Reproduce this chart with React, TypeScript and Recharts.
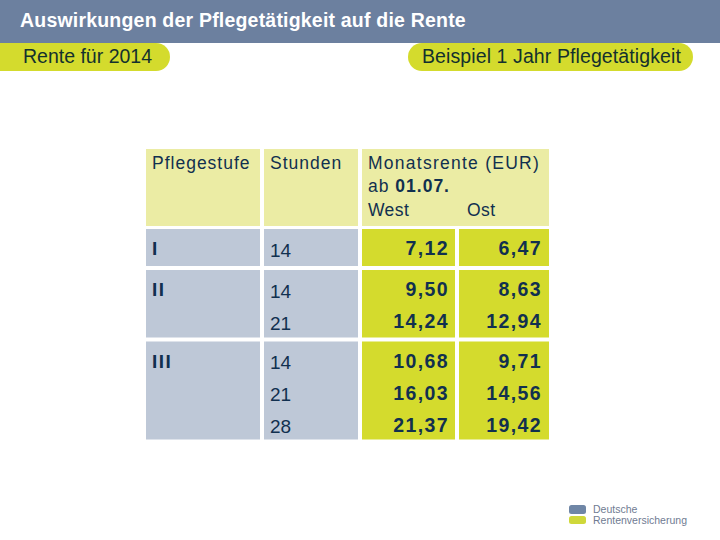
import React from 'react';
import { ComposedChart, XAxis, YAxis, ReferenceArea, Scatter } from 'recharts';

// table content
const levels = ['I', 'II', 'III'];
const hours = [[14], [14, 21], [14, 21, 28]];
const westEur = [[7.12], [9.5, 14.24], [10.68, 16.03, 21.37]];
const eastEur = [[6.47], [8.63, 12.94], [9.71, 14.56, 19.42]];
const headers = ['Pflegestufe', 'Stunden', 'Monatsrente (EUR)'];
const dateLabel = ['ab ', '01.07.'];
const regions = ['West', 'Ost'];

const title = 'Auswirkungen der Pflegetätigkeit auf die Rente';
const leftTag = 'Rente für 2014';
const rightTag = 'Beispiel 1 Jahr Pflegetätigkeit';

const FONT = '"Liberation Sans", Arial, sans-serif';
const INK = '#11304f';
const BAR = '#6c809f';
const LIME = '#d4db2d';
const PALE = '#ebeca4';
const GREY = '#bec8d7';

// layout of the grid (axis units == px)
const COL_W = [114, 94, 93, 90];
const COL_GAP = 4;
const LINE = 30.5;
const PAD = 6.5;
const ROW_GAP = 4;
const HEAD_H = 77;
const HEAD_GAP = 3;

const colStart = COL_W.map((_, i) => COL_W.slice(0, i).reduce((a, b) => a + b + COL_GAP, 0));
const colEnd = colStart.map((s, i) => s + COL_W[i]);
const rowH = hours.map((h) => h.length * LINE + PAD);
const rowTop = rowH.map((_, i) => rowH.slice(0, i).reduce((a, b) => a + b + ROW_GAP, 0));
const tableW = colEnd[colEnd.length - 1];
const tableH = rowTop[rowTop.length - 1] + rowH[rowH.length - 1];
const headTop = -(HEAD_H + HEAD_GAP);

const fmt = (v: number) => v.toFixed(2).replace('.', ',');

type Txt = {
  x: number;
  y: number;
  parts: { t: string; bold?: boolean }[];
  anchor: 'start' | 'end';
  size: number;
  ls: number;
};

const headTexts: Txt[] = [
  { x: colStart[0] + 6, y: headTop + 20, parts: [{ t: headers[0] }], anchor: 'start', size: 17.5, ls: 1 },
  { x: colStart[1] + 6, y: headTop + 20, parts: [{ t: headers[1] }], anchor: 'start', size: 17.5, ls: 1 },
  { x: colStart[2] + 6, y: headTop + 20, parts: [{ t: headers[2] }], anchor: 'start', size: 17.5, ls: 1.25 },
  {
    x: colStart[2] + 6,
    y: headTop + 43,
    parts: [{ t: dateLabel[0] }, { t: dateLabel[1], bold: true }],
    anchor: 'start',
    size: 17.5,
    ls: 1,
  },
  { x: colStart[2] + 6, y: headTop + 67, parts: [{ t: regions[0] }], anchor: 'start', size: 17.5, ls: 0.4 },
  { x: colStart[3] + 8, y: headTop + 67, parts: [{ t: regions[1] }], anchor: 'start', size: 17.5, ls: 0.4 },
];

const bodyTexts: Txt[] = [];
levels.forEach((lv, r) => {
  bodyTexts.push({ x: colStart[0] + 6, y: rowTop[r] + 26, parts: [{ t: lv, bold: true }], anchor: 'start', size: 19, ls: 1.5 });
  hours[r].forEach((h, i) => {
    const y = rowTop[r] + 27.5 + i * 32;
    bodyTexts.push({ x: colStart[1] + 6, y, parts: [{ t: String(h) }], anchor: 'start', size: 19, ls: 0 });
  });
  westEur[r].forEach((v, i) => {
    const y = rowTop[r] + 26 + i * 32;
    bodyTexts.push({ x: colEnd[2] - 6, y, parts: [{ t: fmt(v), bold: true }], anchor: 'end', size: 19.5, ls: 1.4 });
    bodyTexts.push({ x: colEnd[3] - 7, y, parts: [{ t: fmt(eastEur[r][i]), bold: true }], anchor: 'end', size: 19.5, ls: 1.4 });
  });
});

const CellText = (p: any) => {
  const d: Txt = p.payload;
  return (
    <text
      x={p.cx}
      y={p.cy}
      textAnchor={d.anchor}
      fontSize={d.size}
      letterSpacing={d.ls}
      fill={INK}
      fontFamily={FONT}
    >
      {d.parts.map((s, k) => (
        <tspan key={k} fontWeight={s.bold ? 700 : 400}>
          {s.t}
        </tspan>
      ))}
    </text>
  );
};

const Chrome = () => (
  <svg width={720} height={540} style={{ position: 'absolute', left: 0, top: 0 }}>
    <rect x={0} y={0} width={720} height={43} fill={BAR} />
    <text x={20} y={27} fill="#fff" fontFamily={FONT} fontWeight={700} fontSize={19.5} letterSpacing={0.2}>
      {title}
    </text>
    <path d="M0 43 H156 A14 14 0 0 1 156 71 H0 Z" fill={LIME} />
    <text x={23} y={63} fill="#13302e" fontFamily={FONT} fontSize={19.5}>
      {leftTag}
    </text>
    <rect x={408} y={43} width={285} height={28} rx={14} fill={LIME} />
    <text x={422} y={63} fill="#13302e" fontFamily={FONT} fontSize={19.5} letterSpacing={0.1}>
      {rightTag}
    </text>
    <rect x={569} y={505} width={17} height={9} rx={2.5} fill="#6f86a6" />
    <rect x={569} y={516} width={17} height={8} rx={2.5} fill="#cfd83a" />
    <text x={593} y={513} fill="#6f7b92" fontFamily={FONT} fontSize={10.5}>
      Deutsche
    </text>
    <text x={593} y={523.5} fill="#6f7b92" fontFamily={FONT} fontSize={10.5}>
      Rentenversicherung
    </text>
  </svg>
);

export default function App() {
  const top = 149 - headTop;
  return (
    <div style={{ position: 'absolute', left: 0, top: 0, width: 720, height: 540, background: '#fff' }}>
      <Chrome />
      <div style={{ position: 'absolute', left: 0, top: 0 }}>
        <ComposedChart
          width={720}
          height={540}
          margin={{ top: 149, left: 146, right: 720 - 146 - tableW, bottom: 540 - top - tableH }}
        >
          <XAxis type="number" dataKey="x" domain={[0, tableW]} allowDataOverflow hide />
          <YAxis type="number" dataKey="y" domain={[headTop, tableH]} allowDataOverflow reversed hide />
          {/* header cells */}
          <ReferenceArea x1={colStart[0]} x2={colEnd[0]} y1={headTop} y2={-HEAD_GAP} fill={PALE} fillOpacity={1} ifOverflow="visible" />
          <ReferenceArea x1={colStart[1]} x2={colEnd[1]} y1={headTop} y2={-HEAD_GAP} fill={PALE} fillOpacity={1} ifOverflow="visible" />
          <ReferenceArea x1={colStart[2]} x2={colEnd[3]} y1={headTop} y2={-HEAD_GAP} fill={PALE} fillOpacity={1} ifOverflow="visible" />
          {/* body cells */}
          {levels.map((lv, r) => (
            <React.Fragment key={lv}>
              {[0, 1, 2, 3].map((c) => (
                <ReferenceArea
                  key={c}
                  x1={colStart[c]}
                  x2={colEnd[c]}
                  y1={rowTop[r]}
                  y2={rowTop[r] + rowH[r]}
                  fill={c < 2 ? GREY : LIME}
                  fillOpacity={1}
                  ifOverflow="visible"
                />
              ))}
            </React.Fragment>
          ))}
          <Scatter data={headTexts} shape={CellText} isAnimationActive={false} />
          <Scatter data={bodyTexts} shape={CellText} isAnimationActive={false} />
        </ComposedChart>
      </div>
    </div>
  );
}
